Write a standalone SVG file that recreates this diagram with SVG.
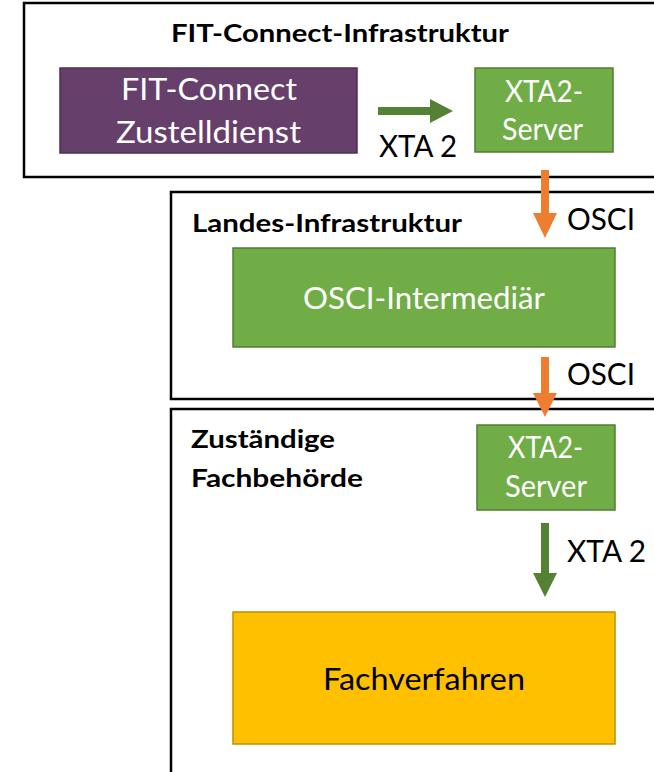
<svg xmlns="http://www.w3.org/2000/svg" width="654" height="772" viewBox="0 0 654 772">
  <style>
    .frame { fill: #ffffff; stroke: #000000; stroke-width: 2.5; }
    .t { font-family: Lato, "Liberation Sans", sans-serif; font-size: 31px; }
    .tb { font-family: Lato, "Liberation Sans", sans-serif; font-size: 24.5px; font-weight: bold; fill: #000000; }
    .white { fill: #ffffff; }
    .black { fill: #000000; }
    .purple { fill: #66406B; stroke: #4E2F53; stroke-width: 1.5; }
    .green { fill: #70AD47; stroke: #507E32; stroke-width: 1.5; }
    .gold { fill: #FFC000; stroke: #BF9000; stroke-width: 1.5; }
    .arrow-green { fill: #548235; }
    .arrow-orange { fill: #ED7D31; }
  </style>
  <rect width="654" height="772" fill="#ffffff"/>

  <g id="frame-fit-connect">
    <rect class="frame" x="24" y="3" width="700" height="174"/>
    <text class="tb" x="171" y="42" textLength="338" lengthAdjust="spacingAndGlyphs">FIT-Connect-Infrastruktur</text>
  </g>
  <g id="frame-landes">
    <rect class="frame" x="171" y="192" width="600" height="207"/>
    <text class="tb" x="192" y="232" textLength="270" lengthAdjust="spacingAndGlyphs">Landes-Infrastruktur</text>
  </g>
  <g id="frame-fachbehoerde">
    <rect class="frame" x="171" y="409" width="600" height="400"/>
    <text class="tb" x="191" y="448" textLength="144" lengthAdjust="spacingAndGlyphs">Zuständige</text>
    <text class="tb" x="191" y="487" textLength="172" lengthAdjust="spacingAndGlyphs">Fachbehörde</text>
  </g>

  <g id="node-zustelldienst">
    <rect class="purple" x="60" y="68" width="297" height="85"/>
    <text class="t white" x="121" y="100" textLength="176" lengthAdjust="spacingAndGlyphs">FIT-Connect</text>
    <text class="t white" x="116" y="143" textLength="185" lengthAdjust="spacingAndGlyphs">Zustelldienst</text>
  </g>
  <g id="node-xta2-server-1">
    <rect class="green" x="475" y="68" width="138" height="84"/>
    <text class="t white" x="505" y="102" textLength="78" lengthAdjust="spacingAndGlyphs">XTA2-</text>
    <text class="t white" x="502" y="140" textLength="81" lengthAdjust="spacingAndGlyphs">Server</text>
  </g>
  <g id="node-osci-intermediaer">
    <rect class="green" x="233" y="248" width="382" height="99"/>
    <text class="t white" x="303" y="309" textLength="242" lengthAdjust="spacingAndGlyphs">OSCI-Intermediär</text>
  </g>
  <g id="node-xta2-server-2">
    <rect class="green" x="477" y="425" width="138" height="85"/>
    <text class="t white" x="508" y="458" textLength="75" lengthAdjust="spacingAndGlyphs">XTA2-</text>
    <text class="t white" x="505" y="497" textLength="82" lengthAdjust="spacingAndGlyphs">Server</text>
  </g>
  <g id="node-fachverfahren">
    <rect class="gold" x="233" y="612" width="382" height="132"/>
    <text class="t black" x="323" y="690" textLength="202" lengthAdjust="spacingAndGlyphs">Fachverfahren</text>
  </g>

  <g id="connectors">
    <polygon class="arrow-green" points="378,107 430,107 430,99 453,111 430,123 430,115 378,115"/>
    <text class="t black" x="379" y="157" textLength="78" lengthAdjust="spacingAndGlyphs">XTA 2</text>

    <polygon class="arrow-orange" points="541,170 549,170 549,213 557,213 545,238 533,213 541,213"/>
    <text class="t black" x="567" y="230" textLength="68" lengthAdjust="spacingAndGlyphs">OSCI</text>

    <polygon class="arrow-orange" points="541,357 549,357 549,393 557,393 545,417 533,393 541,393"/>
    <text class="t black" x="567" y="385" textLength="68" lengthAdjust="spacingAndGlyphs">OSCI</text>

    <polygon class="arrow-green" points="541,523 549,523 549,573 557,573 545,597 533,573 541,573"/>
    <text class="t black" x="567" y="562" textLength="79" lengthAdjust="spacingAndGlyphs">XTA 2</text>
  </g>
</svg>
